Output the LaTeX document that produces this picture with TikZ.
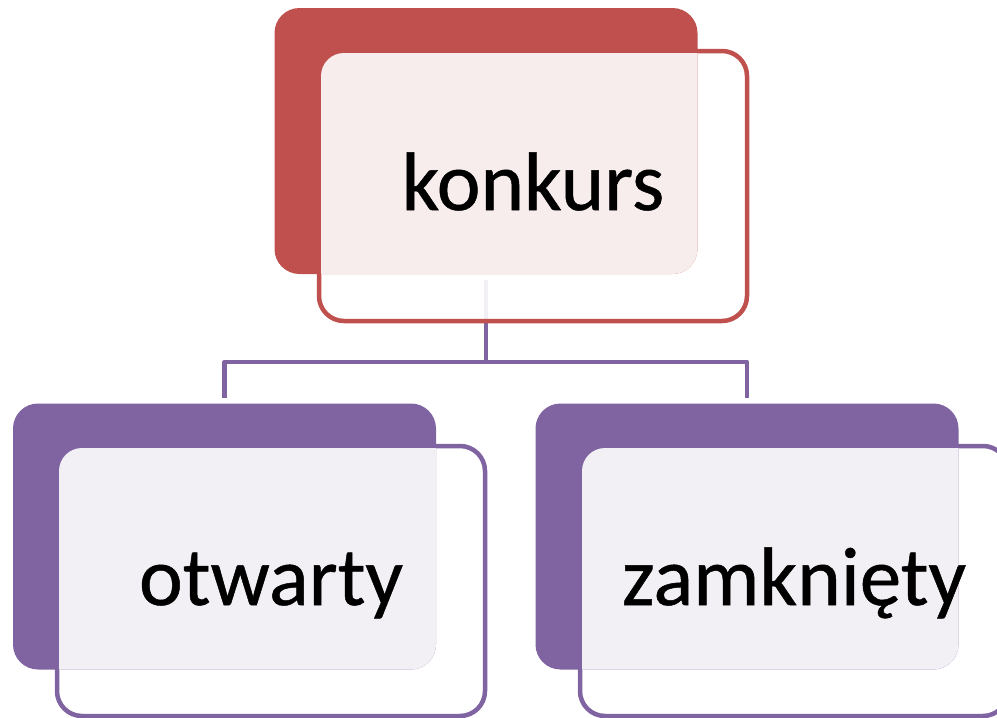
\documentclass[tikz,border=0pt]{standalone}
\usepackage{fontspec}
\setmainfont{Carlito}
\newfontfamily\lblfont{Carlito}[FakeBold=0.6]
\usetikzlibrary{backgrounds}
\definecolor{cred}{HTML}{C0504D}
\definecolor{cpurp}{HTML}{8064A2}
\begin{document}
\begin{tikzpicture}[x=1pt,y=-1pt,
  box/.style={rectangle, rounded corners=25pt, inner sep=0pt, outer sep=0pt},
  backbox/.style={box, fill=#1, minimum width=423pt, minimum height=266pt},
  frontbox/.style={box, draw=#1, line width=4.5pt, fill=white, fill opacity=0.9, minimum width=428pt, minimum height=270pt},
  label/.style={anchor=base, text=black, font=\lblfont\fontsize{83}{90}\selectfont, inner sep=0pt},
  conn/.style={draw=cpurp, line width=4.5pt, line join=round}]
\useasboundingbox (0,0) rectangle (997,718);
\clip (0,0) rectangle (997,718);
% front (outlined) boxes
\node[frontbox=cred] (topF) at (533,186) {};
\node[frontbox=cpurp] (leftF) at (271,581) {};
\node[frontbox=cpurp] (rightF) at (794,581) {};
% back (filled) boxes
\node[backbox=cred] (topB) at (486,141) {};
\node[backbox=cpurp] (leftB) at (224.5,536.5) {};
\node[backbox=cpurp] (rightB) at (747,536.5) {};
% pale overlays on the overlap
\foreach \f/\b in {topF/topB, leftF/leftB, rightF/rightB}{
  \begin{scope}
    \clip[rounded corners=23pt] ([xshift=2pt,yshift=-2pt]\f.north west) rectangle ([xshift=-2pt,yshift=2pt]\f.south east);
    \fill[white, fill opacity=0.9, rounded corners=25pt] (\b.south west) rectangle (\b.north east);
  \end{scope}
}
% texts
\node[label] (tK) at ([yshift=-159pt]topF.north) {konkurs};
\node[label] (tO) at ([yshift=-159pt]leftF.north) {otwarty};
\node[label] (tZ) at ([yshift=-159pt]rightF.north) {zamknięty};
% connector
\begin{scope}[on background layer]
\draw[conn] ([yshift=-6pt]topB.south) -- ++(0,82) coordinate (j)
  -| ([yshift=6pt]leftB.north);
\draw[conn] (j) -| ([yshift=6pt]rightB.north);
\end{scope}
\end{tikzpicture}
\end{document}
